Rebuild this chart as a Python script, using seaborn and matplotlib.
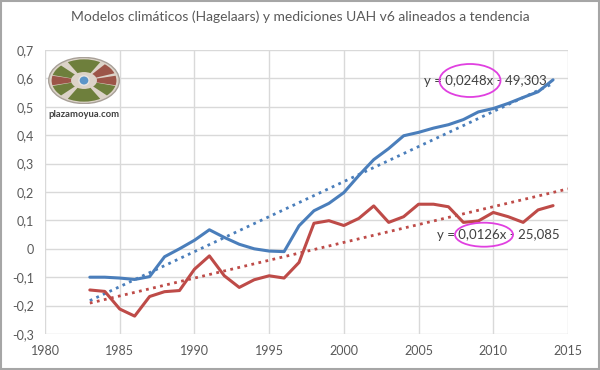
import numpy as np
import pandas as pd
import matplotlib
matplotlib.use("Agg")
import matplotlib.pyplot as plt
import seaborn as sns
from matplotlib.patches import Ellipse, Wedge, Rectangle
from matplotlib.ticker import FuncFormatter, MultipleLocator

years = list(range(1983, 2015))
modelos = [-0.100, -0.100, -0.103, -0.108, -0.098, -0.028, 0.000, 0.030, 0.067, 0.040,
           0.016, 0.000, -0.008, -0.010, 0.081, 0.134, 0.160, 0.198, 0.258, 0.314,
           0.353, 0.398, 0.410, 0.425, 0.437, 0.455, 0.482, 0.494, 0.512, 0.533,
           0.553, 0.595]
uah = [-0.145, -0.150, -0.212, -0.237, -0.168, -0.151, -0.147, -0.072, -0.025, -0.095,
       -0.136, -0.109, -0.095, -0.103, -0.048, 0.090, 0.099, 0.082, 0.107, 0.151,
       0.093, 0.113, 0.157, 0.157, 0.148, 0.093, 0.098, 0.128, 0.113, 0.093,
       0.137, 0.152]
title = "Modelos climáticos (Hagelaars) y mediciones UAH v6 alineados a tendencia"
eq_modelos = "y = 0,0248x - 49,303"
eq_uah = "y = 0,0126x - 25,085"
x_ticks = [1980, 1985, 1990, 1995, 2000, 2005, 2010, 2015]

BLUE = "#4a7ebb"
RED = "#be4b48"
GRAY = "#595959"

sns.set_theme(style="white")
plt.rcParams['font.family'] = ['Lato', 'DejaVu Sans']

df = pd.DataFrame({
    "year": years * 2,
    "value": modelos + uah,
    "serie": ["Modelos"] * len(years) + ["UAH"] * len(years),
})

fig = plt.figure(figsize=(6, 3.7), dpi=100)
fig.patch.set_facecolor("white")
ax = fig.add_axes([45 / 600, 1 - 334 / 370, 523 / 600, 284 / 370])

sns.lineplot(data=df, x="year", y="value", hue="serie",
             palette={"Modelos": BLUE, "UAH": RED}, linewidth=2.2,
             legend=False, ax=ax, zorder=3)

# linear trendlines
xa = np.array(years, dtype=float)
pb = np.polyfit(xa, np.array(modelos), 1)
pr = np.polyfit(xa, np.array(uah), 1)
xb = np.array([years[0], years[-1]], dtype=float)
xr = np.array([years[0], years[-1] + 1], dtype=float)
ax.plot(xb, np.polyval(pb, xb), color=BLUE, lw=2, ls=(0, (1, 1.6)), zorder=2)
ax.plot(xr, np.polyval(pr, xr), color=RED, lw=2, ls=(0, (1, 1.6)), zorder=2)

ax.set_xlim(1980, 2015)
ax.set_ylim(-0.3, 0.7)
ax.set_xticks(x_ticks)
ax.yaxis.set_major_locator(MultipleLocator(0.1))


def yfmt(v, pos):
    if abs(v) < 1e-9:
        return "0"
    return f"{v:.1f}".replace(".", ",")


ax.yaxis.set_major_formatter(FuncFormatter(yfmt))
ax.grid(True, color="#d9d9d9", lw=1)
for s in ax.spines.values():
    s.set_visible(False)
ax.tick_params(axis="both", length=0, labelsize=9, colors=GRAY, pad=8)
ax.set_xlabel("")
ax.set_ylabel("")


def px2data(px, py):
    x = 1980 + (px - 45) / 523 * 35
    y = 0.7 - (py - 50) / 284 * 1.0
    return x, y


# equations
tx, ty = px2data(485, 81)
ax.text(tx, ty, eq_modelos, fontsize=9.5, color="#404040", ha="center", va="center", zorder=5)
tx, ty = px2data(498, 235)
ax.text(tx, ty, eq_uah, fontsize=9.5, color="#404040", ha="center", va="center", zorder=5)

# magenta ellipses
cx, cy = px2data(470, 80.5)
ax.add_patch(Ellipse((cx, cy), 61 / 523 * 35, 33 / 284, fill=False, ec="#e040e0", lw=1.3, zorder=6))
cx, cy = px2data(484, 234.7)
ax.add_patch(Ellipse((cx, cy), 58 / 523 * 35, 24 / 284, fill=False, ec="#e040e0", lw=1.3, zorder=6))

# logo
lax = fig.add_axes([48 / 600, 1 - 104 / 370, 72 / 600, 47 / 370])
lax.set_xlim(0, 1)
lax.set_ylim(0, 1)
lax.axis("off")
lax.add_patch(Ellipse((0.5, 0.5), 0.98, 0.98, fc="#dcd3c8", ec="#a8a098", lw=1))
segs = [(60, 120, "#6e7f3c"), (135, 165, "#6e7f3c"), (20, 50, "#9c5548"),
        (167, 193, "#9c5548"), (-13, 13, "#9c5548"), (195, 225, "#6e7f3c"),
        (240, 300, "#6e7f3c"), (315, 345, "#6e7f3c")]
for t1, t2, c in segs:
    lax.add_patch(Wedge((0.5, 0.5), 0.45, t1, t2, width=0.27, fc=c, ec="none"))
lax.add_patch(Ellipse((0.5, 0.5), 0.14, 0.2, fc="#5b95c8", ec="#e8e4e0", lw=1))
fig.text(84 / 600, 1 - 115 / 370, "plazamoyua.com", fontsize=6.8, fontweight="bold",
         color="#404040", ha="center", va="center")

fig.text(0.5, 1 - 17 / 370, title, fontsize=10, color=GRAY, ha="center", va="center")

fig.patches.append(Rectangle((0.002, 0.003), 0.996, 0.994, transform=fig.transFigure,
                             fill=False, ec="#a6a6a6", lw=1.5))

fig.savefig("out.png", dpi=100)
